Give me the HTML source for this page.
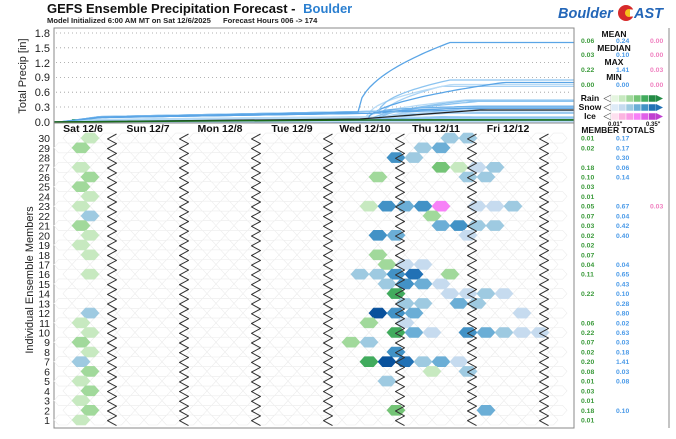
<!DOCTYPE html>
<html><head><meta charset="utf-8">
<style>
body{margin:0;background:#fff;width:676px;height:434px;overflow:hidden;font-family:"Liberation Sans",Arial,sans-serif}
svg text{font-family:"Liberation Sans",Arial,sans-serif}
</style></head><body>
<svg id="s" width="676" height="434" xmlns="http://www.w3.org/2000/svg">
<text x="47" y="13" font-size="13" font-weight="bold" fill="#111">GEFS Ensemble Precipitation Forecast - <tspan fill="#2a7fd0" dx="4">Boulder</tspan></text>
<text x="47" y="23" font-size="7.6" font-weight="bold" fill="#222">Model Initialized 6:00 AM MT on Sat 12/6/2025 <tspan dx="10">Forecast Hours 006 -&gt; 174</tspan></text>
<text x="558" y="18" font-size="14.5" font-weight="bold" font-style="italic" fill="#2366b8">Boulder</text>
<circle cx="626" cy="13" r="8" fill="#d72a2a"/><circle cx="629" cy="13" r="4" fill="#f6c21c"/><rect x="630" y="9.5" width="6" height="7" fill="#fff"/>
<text x="634" y="18" font-size="14.5" font-weight="bold" font-style="italic" fill="#2366b8">AST</text>
<g font-size="11" fill="#222" text-anchor="end">
<text x="50" y="37">1.8</text><text x="50" y="52">1.5</text><text x="50" y="67">1.2</text><text x="50" y="81">0.9</text><text x="50" y="96">0.6</text><text x="50" y="111">0.3</text><text x="50" y="126">0.0</text>
</g>
<text transform="translate(26,76) rotate(-90)" font-size="11" text-anchor="middle" fill="#222">Total Precip [in]</text>
<text transform="translate(33,280) rotate(-90)" font-size="11" text-anchor="middle" fill="#222">Individual Ensemble Members</text>
<g id="grid" stroke="#999" stroke-width="0.8" stroke-dasharray="1,3"></g>
<g id="lines" fill="none"></g>
<rect x="54" y="28" width="520" height="400" fill="none" stroke="#888" stroke-width="1"/>
<line x1="54" y1="123" x2="574" y2="123" stroke="#888"/>
<g id="hex"></g>
<g id="sep" fill="none" stroke="#333" stroke-width="1"></g>
<g font-size="10.5" font-weight="bold" fill="#111" text-anchor="middle">
<text x="83" y="132">Sat 12/6</text><text x="148" y="132">Sun 12/7</text><text x="220" y="132">Mon 12/8</text><text x="292" y="132">Tue 12/9</text><text x="365" y="132">Wed 12/10</text><text x="436" y="132">Thu 12/11</text><text x="508" y="132">Fri 12/12</text>
</g>
<g id="rows" font-size="10.5" fill="#222" text-anchor="end"></g>
<line x1="574" y1="28" x2="574" y2="428" stroke="#888"/>
<line x1="669" y1="28" x2="669" y2="428" stroke="#888"/>
<g font-size="8.5" font-weight="bold" fill="#111" text-anchor="middle">
<text x="614" y="37">MEAN</text><text x="614" y="51">MEDIAN</text><text x="614" y="65">MAX</text><text x="614" y="80">MIN</text>
<text x="590" y="101">Rain</text><text x="590" y="110">Snow</text><text x="590" y="119">Ice</text>
<text x="618" y="133">MEMBER TOTALS</text>
</g>
<g font-size="6.8" font-weight="bold">
<text x="581" y="43" fill="#3a9a3a">0.06</text><text x="616" y="43" fill="#4a9ae8">0.24</text><text x="650" y="43" fill="#f080c0">0.00</text>
<text x="581" y="57" fill="#3a9a3a">0.03</text><text x="616" y="57" fill="#4a9ae8">0.10</text><text x="650" y="57" fill="#f080c0">0.00</text>
<text x="581" y="72" fill="#3a9a3a">0.22</text><text x="616" y="72" fill="#4a9ae8">1.41</text><text x="650" y="72" fill="#f080c0">0.03</text>
<text x="581" y="87" fill="#3a9a3a">0.00</text><text x="616" y="87" fill="#4a9ae8">0.00</text><text x="650" y="87" fill="#f080c0">0.00</text>
<text x="608" y="126" fill="#111" font-size="6">0.01"</text><text x="646" y="126" fill="#111" font-size="6">0.35"</text>
</g>
<g id="leg"></g>
<g id="tot" font-size="6.8" font-weight="bold"></g>
</svg>
<script>
var NS="http://www.w3.org/2000/svg";
function el(p,t,a,txt){var e=document.createElementNS(NS,t);for(var k in a)e.setAttribute(k,a[k]);if(txt!=null)e.textContent=txt;document.getElementById(p).appendChild(e);return e;}
for(var i=0;i<6;i++){var y=33+i*14.8;el("grid","line",{x1:56,y1:y,x2:572,y2:y});}
function Y(v){return 122-v*49.4;}
var rain=[0.01,0.02,0,0.18,0.10,0.03,0.01,0.05,0.07,0.03,0.02,0.02,0.07,0.04,0.11,0,0.22,0,0,0.06,0.22,0.07,0.02,0.20,0.08,0.01,0.03,0.01,0.18,0.01];
var snow=[0.17,0.17,0.30,0.06,0.14,0,0,0.67,0.04,0.42,0.40,0,0,0.04,0.65,0.43,0.10,0.28,0.80,0.02,0.63,0.03,0.18,1.41,0.03,0.08,0,0,0.10,0];
var blues=["#8cc4f0","#6fb2ea","#a9d2f4","#5aa5e6","#b8dbf6"];
el("lines","rect",{x:72,y:119,width:502,height:3,fill:"#3daa3d",stroke:"none"});
for(var m=0;m<30;m++){
  var R=rain[m],S=snow[m],T=R+S,d=[];
  var x0=360+(m*7)%30, x1=430+(m*13)%80;
  if(S>1){x0=358;x1=450;}
  for(var x=54;x<=574;x+=4){
    var v;
    if(x<100)v=R*Math.max(0,(x-60)/40)*0.5;
    else if(x<x0)v=R*0.5+R*0.5*(x-100)/(x0-100);
    else if(x<x1){var f=(x-x0)/(x1-x0);f=Math.sqrt(f);v=R+S*f;}
    else v=T;
    d.push((d.length?"L":"M")+x+","+Y(v).toFixed(1));
  }
  el("lines","path",{d:d.join(""),stroke:blues[m%5],"stroke-width":1.3});
}
el("lines","path",{d:"M54,122 L360,119 L400,116 L440,113 L480,110 L574,110",stroke:"#222","stroke-width":1.2});
el("lines","path",{d:"M54,122 L360,120 L574,120",stroke:"#1a6a1a","stroke-width":1.5});
function RY(r){return 420-(r-1)*9.72;}
function hx(cx,cy,fill,stroke){var p=[[cx-9,cy],[cx-4.5,cy-5],[cx+4.5,cy-5],[cx+9,cy],[cx+4.5,cy+5],[cx-4.5,cy+5]].map(function(a){return a[0].toFixed(1)+","+a[1].toFixed(1)}).join(" ");
el("hex","polygon",{points:p,fill:fill,stroke:stroke,"stroke-width":0.6});}
for(var r=1;r<=30;r++){var y=RY(r),off=(r%2)?81:90;
  for(var cx=off-18;cx<=572;cx+=18){if(cx-9<54||cx+9>574)continue;hx(cx,y,"#fff","#ececec");}
  el("rows","text",{x:50,y:y+4},String(r));
}
var VLG="#c7e9c0",LG="#a1d99b",G="#74c476",DG="#41ab5d",PB="#c6dbef",LB="#9ecae1",MB="#6baed6",MDB="#4292c6",DB="#2171b5",NV="#08519c",PK="#f781f7";
var H=[
[30,90,VLG],[29,81,LG],[27,81,VLG],[26,90,LG],[25,81,LG],[24,90,VLG],[23,81,VLG],[22,90,LB],[21,81,LG],[20,90,VLG],[19,81,VLG],[18,90,VLG],[16,90,VLG],[12,90,LB],[11,81,VLG],[10,90,VLG],[9,81,LG],[8,90,VLG],[7,81,LB],[6,90,LG],[5,81,VLG],[4,90,LG],[3,81,VLG],[2,90,LG],[1,81,VLG],
[30,450,LB],[30,468,LB],[29,423,LB],[29,441,MB],[28,396,MDB],[28,414,LB],
[27,441,G],[27,459,VLG],[27,477,PB],[27,495,LB],[26,378,LG],[26,468,LB],[26,486,LB],
[23,369,VLG],[23,387,MDB],[23,405,MB],[23,423,MDB],[23,441,PK],[23,477,PB],[23,495,PB],[23,513,LB],
[22,432,LG],[21,441,MB],[21,459,MDB],[21,477,LB],[21,495,LB],[20,468,PB],[20,378,MDB],[20,396,MB],
[18,378,LG],[17,387,LG],[17,405,PB],[17,423,PB],
[16,360,LB],[16,378,LB],[16,396,MDB],[16,414,DB],[16,450,LG],
[15,387,LB],[15,405,MDB],[15,423,MB],[15,441,PB],
[14,396,DG],[14,450,PB],[14,468,PB],[14,486,LB],[14,504,PB],
[13,405,LB],[13,423,LB],[13,459,MB],[13,477,LB],
[12,378,NV],[12,396,MDB],[12,414,MB],[12,522,PB],
[11,369,LG],[11,405,PB],
[10,396,DG],[10,414,MB],[10,432,PB],[10,468,MDB],[10,486,MB],[10,504,LB],[10,522,PB],[10,540,PB],
[9,351,LG],[9,369,LB],[8,396,MDB],
[7,369,DG],[7,387,NV],[7,405,DB],[7,423,LB],[7,441,MB],[7,459,PB],
[6,432,VLG],[6,468,LB],[5,387,LB],[2,396,G],[2,486,MB]];
H.forEach(function(h){hx(h[1],RY(h[0]),h[2],h[2]);});
for(var k=0;k<7;k++){var bx=112+72*k,d="";
  for(var i=0;i<61;i++){var y=134+i*4.86;if(y>428.5)break;var xa=bx+((i%2)?-4.5:4.5);
    d+=(i?" L":"M")+xa+","+y.toFixed(1);}
  el("sep","path",{d:d,"stroke-linejoin":"round"});}
var cols=[["#e5f5e0","#c7e9c0","#a1d99b","#74c476","#41ab5d","#238b45"],["#deebf7","#c6dbef","#9ecae1","#6baed6","#4292c6","#2171b5"],["#fde0ef","#fbb4e0","#f99ae6","#f781f7","#e060e8","#c040d0"]];
for(var j=0;j<3;j++){var y=95+j*9;
  el("leg","polygon",{points:"604,"+(y+3.5)+" 611,"+y+" 611,"+(y+7),fill:"#fff",stroke:"#555","stroke-width":0.6});
  for(var q=0;q<6;q++)el("leg","rect",{x:611+q*7.5,y:y,width:7.5,height:7,fill:cols[j][q],stroke:"#fff","stroke-width":0.5});
  el("leg","polygon",{points:"656,"+y+" 663,"+(y+3.5)+" 656,"+(y+7),fill:cols[j][5]});
}
for(var m=0;m<30;m++){var r=30-m,y=RY(r)+2.5;
  var R=rain[m],S=snow[m];
  if(R>0)el("tot","text",{x:581,y:y,fill:"#3a9a3a"},R.toFixed(2));
  if(S>0)el("tot","text",{x:616,y:y,fill:"#4a9ae8"},S.toFixed(2));
  if(r==23)el("tot","text",{x:650,y:y,fill:"#f080c0"},"0.03");
}
</script>
</body></html>
